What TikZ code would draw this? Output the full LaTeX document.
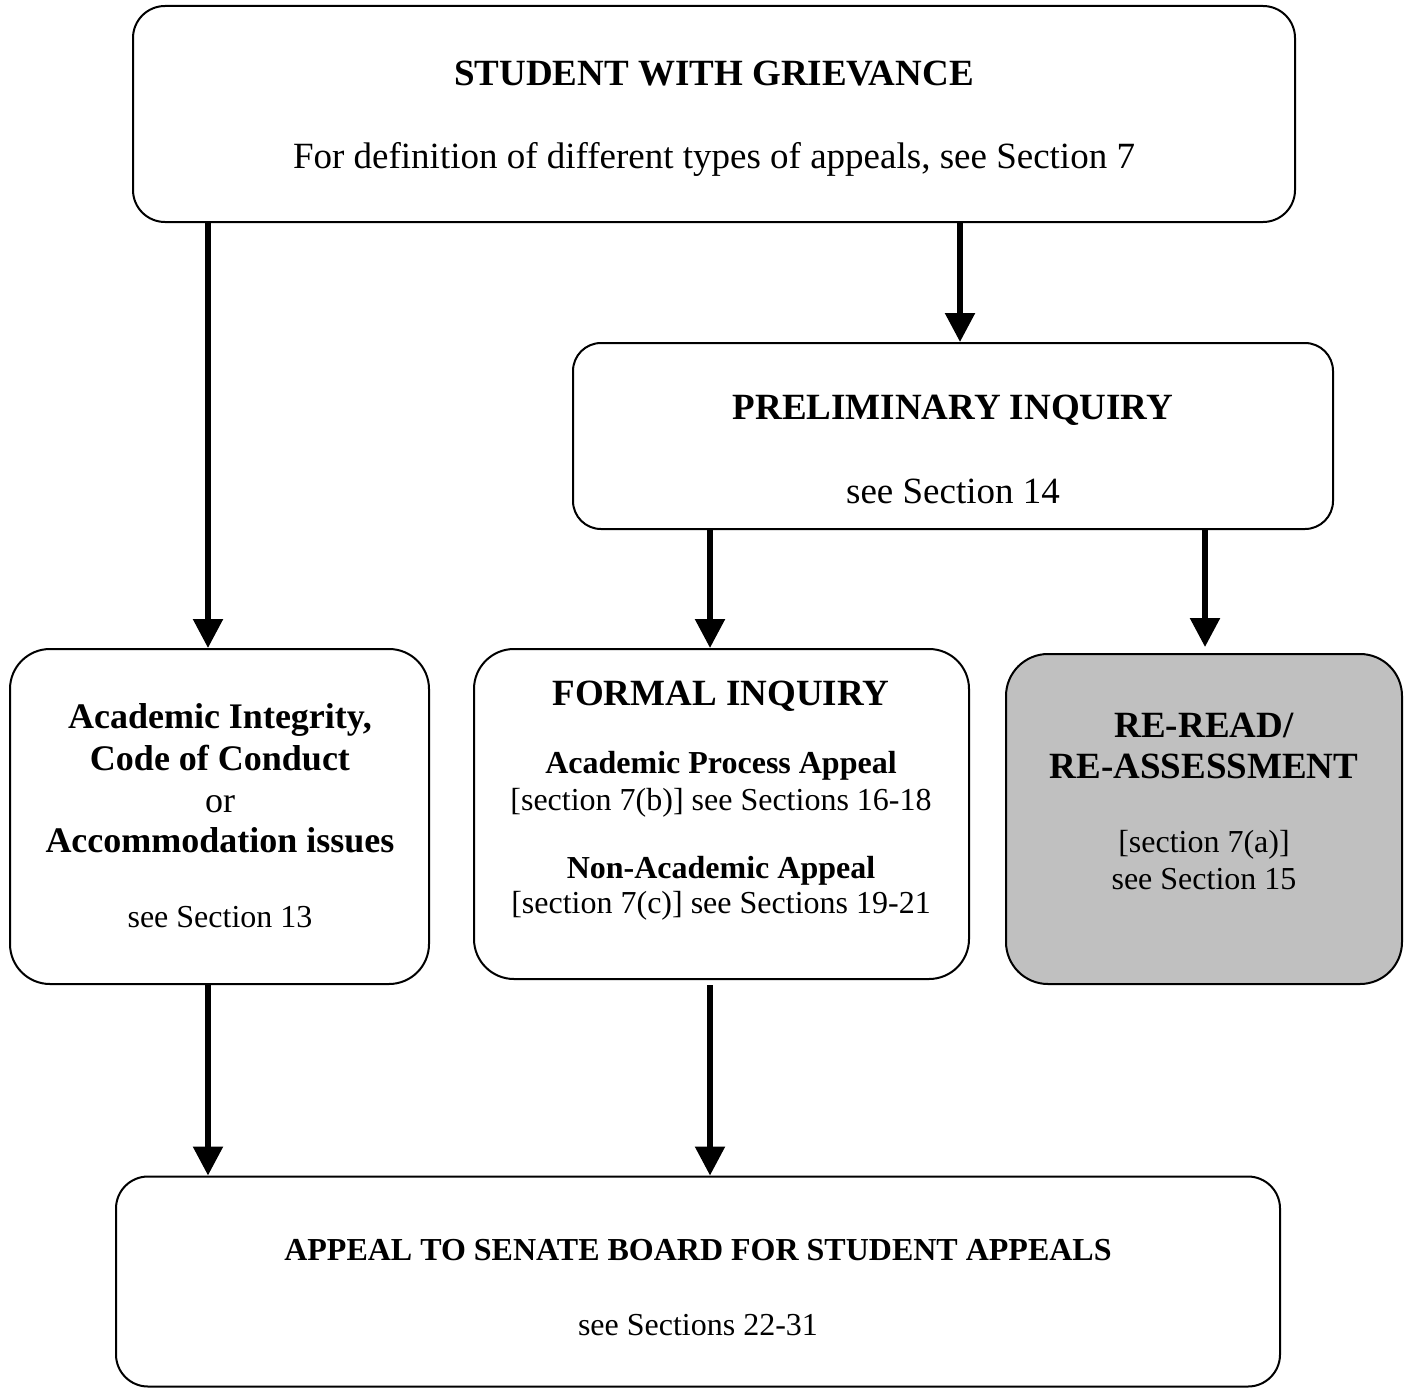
\documentclass[tikz,border=0pt]{standalone}
\usepackage{fontspec}
\setmainfont{Liberation Serif}
\usetikzlibrary{arrows.meta}
\newcommand\szA{\fontsize{37}{44}\selectfont}
\newcommand\szB{\fontsize{36}{43}\selectfont}
\newcommand\szC{\fontsize{32}{38}\selectfont}
\definecolor{boxgray}{HTML}{C0C0C0}
\begin{document}
\begin{tikzpicture}[x=1pt,y=-1pt,
  box/.style={draw=black, line width=2pt, rounded corners=#1, inner sep=0pt, fill=white},
  box/.default=32pt,
  txt/.style={anchor=base, inner sep=0pt},
  arr/.style={line width=5.5pt, -{Triangle[width=29pt,length=29pt]}}]
\useasboundingbox (0,0) rectangle (1405,1389);
% boxes
\node[box, minimum width=1162pt, minimum height=216pt] (top) at (714,114) {};
\node[box=28pt, minimum width=760pt, minimum height=186pt] (prel) at (953,436) {};
\node[box=40pt, minimum width=419pt, minimum height=335pt] (aint) at (219.5,816.5) {};
\node[box=40pt, minimum width=495pt, minimum height=330pt] (form) at (721.5,814) {};
\node[box=42pt, fill=boxgray, minimum width=396pt, minimum height=330pt] (rere) at (1204,819) {};
\node[box, minimum width=1164pt, minimum height=210pt] (bott) at (698,1281.5) {};
% texts
\node[txt] (t1) at (714,85) {\szA\bfseries STUDENT WITH GRIEVANCE};
\node[txt] (t2) at (714,168) {\szA For definition of different types of appeals, see Section 7};
\node[txt] (t3) at (953,419) {\szA\bfseries PRELIMINARY INQUIRY};
\node[txt] (t4) at (953,503) {\szA see Section 14};
\node[txt] (t5) at (220,728) {\szB\bfseries Academic Integrity,};
\node[txt] (t6) at (220,770) {\szB\bfseries Code of Conduct};
\node[txt] (t7) at (220,812) {\szB or};
\node[txt] (t8) at (220,852) {\szB\bfseries Accommodation issues};
\node[txt] (t9) at (220,927) {\szC see Section 13};
\node[txt] (t10) at (721,705) {\szA\bfseries FORMAL INQUIRY};
\node[txt] (t11) at (721,773) {\szC\bfseries Academic Process Appeal};
\node[txt] (t12) at (721,810) {\szC [section 7(b)] see Sections 16-18};
\node[txt] (t13) at (721,878) {\szC\bfseries Non-Academic Appeal};
\node[txt] (t14) at (721,913) {\szC [section 7(c)] see Sections 19-21};
\node[txt] (t15) at (1204,737) {\szA\bfseries RE-READ/};
\node[txt] (t16) at (1204,778) {\szA\bfseries RE-ASSESSMENT};
\node[txt] (t17) at (1204,852) {\szC [section 7(a)]};
\node[txt] (t18) at (1204,889) {\szC see Section 15};
\node[txt] (t19) at (698,1260) {\szC\bfseries APPEAL TO SENATE BOARD FOR STUDENT APPEALS};
\node[txt] (t20) at (698,1335) {\szC see Sections 22-31};
% connectors
\draw[arr] (top.south -| 208,0) -- (aint.north -| 208,0);
\draw[arr] (top.south -| 960,0) -- (prel.north -| 960,0);
\draw[arr] (prel.south -| 710,0) -- (form.north -| 710,0);
\coordinate (rtip) at (1205,647);
\draw[arr] (prel.south -| 1205,0) -- (rtip);
\draw[arr] (aint.south -| 208,0) -- (bott.north -| 208,0);
\coordinate (fstart) at (710,985);
\draw[arr] (fstart) -- (bott.north -| 710,0);
\end{tikzpicture}
\end{document}
